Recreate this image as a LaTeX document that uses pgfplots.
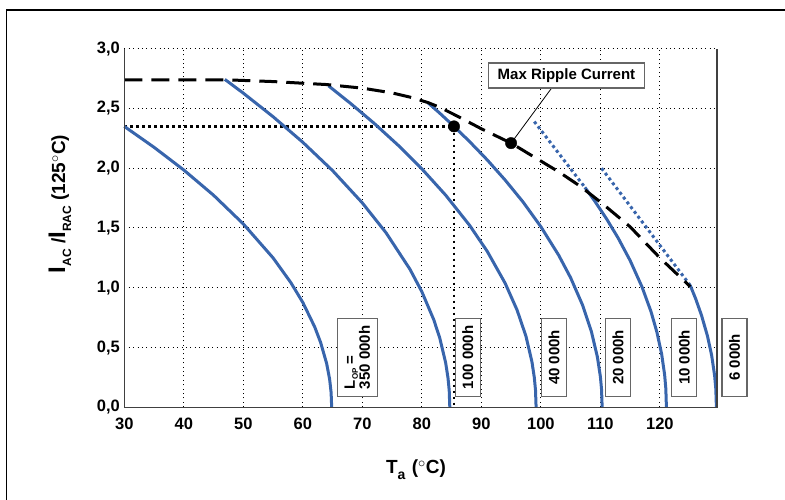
\documentclass[border=0pt]{standalone}
\usepackage{pgfplots}
\pgfplotsset{compat=1.18}
\usepackage{fontspec}
\setmainfont{Liberation Sans}
\definecolor{curveblue}{RGB}{56,101,172}
\newcommand{\sub}[2][12]{{\fontsize{#1}{#1}\selectfont\raisebox{-6pt}{#2}}}
\newcommand{\bigI}{{\fontsize{24}{24}\selectfont I}}
\begin{document}
\begin{tikzpicture}[x=1pt,y=1pt,
    box/.style={draw=black!60, line width=1.3pt, fill=white, rotate=90, inner sep=0pt,
        minimum width=78pt, minimum height=25pt, font=\fontsize{15}{15}\selectfont\bfseries}]
\useasboundingbox (0,0) rectangle (785,500);
\draw[line width=1.2pt] (6.7,-5) rectangle (790,490);
\begin{axis}[
    at={(124.3pt,92.7pt)}, anchor=south west,
    scale only axis, width=592.7pt, height=358.6pt,
    xmin=30, xmax=129.6, ymin=0, ymax=3,
    xtick={30,40,50,60,70,80,90,100,110,120},
    ytick={0,0.5,1,1.5,2,2.5,3},
    grid=major,
    major grid style={black, line width=1pt, dash pattern=on 1pt off 3.4pt},
    axis line style={draw=none},
    major tick length=0pt,
    tick label style={font=\fontsize{16.5}{19}\selectfont\bfseries},
    /pgf/number format/assume math mode=true,
    yticklabel style={/pgf/number format/.cd, fixed, fixed zerofill, precision=1, use comma},
    xticklabel shift=7pt, yticklabel shift=1pt,
    clip=false,
]
% operating point guide lines
\draw[black, line width=2.6pt, dash pattern=on 2.6pt off 3.4pt] (axis cs:30,2.35) -- (axis cs:85.4,2.35) -- (axis cs:85.4,0);

% L_op = 350 000h
\addplot[curveblue, line width=3pt, line join=round] coordinates {
    (30,2.350) (35,2.175) (40,1.985) (45,1.774) (50,1.534) (55,1.250) (58,1.042)
    (60,0.877) (62,0.672) (63,0.541) (64,0.367) (64.5,0.236) (64.75,0.126) (64.85,0)
};
% 100 000h
\addplot[curveblue, line width=3pt, line join=round] coordinates {
    (46.9,2.743) (50,2.628) (55,2.431) (60,2.217) (65,1.980) (70,1.710) (74,1.459)
    (78,1.155) (80,0.967) (82,0.733) (83,0.582) (84,0.373) (84.4,0.244) (84.6,0.141) (84.7,0)
};
% 40 000h
\addplot[curveblue, line width=3pt, line join=round] coordinates {
    (64.3,2.690) (68,2.543) (72,2.375) (76,2.193) (80,1.995) (84,1.775) (88,1.524)
    (91,1.304) (94,1.038) (96,0.814) (97.5,0.594) (98.5,0.381) (98.9,0.249) (99.1,0.144) (99.2,0)
};
% 20 000h
\addplot[curveblue, line width=3pt, line join=round] coordinates {
    (81,2.549) (83,2.461) (85.4,2.350) (88,2.224) (91,2.069) (94,1.901) (97,1.718)
    (100,1.511) (103,1.272) (105,1.084) (107,0.856) (108.5,0.632) (109.5,0.421)
    (110,0.258) (110.2,0.149) (110.3,0)
};
% 10 000h
\addplot[curveblue, line width=3pt, line join=round] coordinates {
    (107.4,1.840) (109,1.729) (111,1.580) (113,1.415) (115,1.228) (117,1.007)
    (118.5,0.802) (119.5,0.629) (120.3,0.445) (120.8,0.272) (121.0,0.157) (121.1,0)
};
\addplot[curveblue, line width=3pt, dash pattern=on 3pt off 3pt] coordinates {
    (98.9,2.39) (107.4,1.84)
};
% 6 000h
\addplot[curveblue, line width=3pt, line join=round] coordinates {
    (125.1,1.020) (126,0.910) (127,0.769) (128,0.596) (128.7,0.435) (129.2,0.266) (129.4,0.154) (129.5,0)
};
\addplot[curveblue, line width=3pt, dash pattern=on 3pt off 3pt] coordinates {
    (110.2,2.0) (125.1,1.02)
};
% max ripple current
\addplot[black, line width=3pt, dash pattern=on 18pt off 9pt] coordinates {
    (30,2.74) (47,2.74) (55,2.725) (64,2.70) (70,2.67) (75,2.63) (78,2.595) (81,2.55)
    (83,2.51) (85.8,2.44) (90,2.33) (95,2.21) (100,2.06) (103,1.97) (106.6,1.85)
    (110.2,1.71) (115,1.51) (120,1.25) (125.1,1.01)
};
\addplot[black, only marks, mark=*, mark size=5.7pt] coordinates {(85.4,2.35) (95,2.21)};

\draw[line width=0.8pt] (axis cs:101.8,2.67) -- (axis cs:95,2.21);
\node[draw=black!60, line width=1.3pt, fill=white, minimum width=156pt, minimum height=25pt,
    inner sep=0pt, font=\fontsize{15}{15}\selectfont\bfseries] at (axis cs:104.3,2.775) {Max Ripple Current};

\node[box, minimum height=40pt, align=left] at (axis cs:69.15,0.417)
    {L{\fontsize{8}{8}\selectfont\raisebox{-3pt}{OP}} =\\350 000h};
\node[box] at (axis cs:87.7,0.417) {100 000h};
\node[box] at (axis cs:102.2,0.417) {40 000h};
\node[box] at (axis cs:112.95,0.417) {20 000h};
\node[box] at (axis cs:124.1,0.417) {10 000h};
\node[box] at (axis cs:132.55,0.417) {6 000h};

\draw[black!75, line width=1.2pt] (rel axis cs:0,1) -- (rel axis cs:0,0) -- (rel axis cs:1,0) -- (rel axis cs:1,1);
\end{axis}
\node[anchor=base, font=\fontsize{19}{19}\selectfont\bfseries] at (416,26.7) {T\sub[14]{a}\,\,($^\circ$C)};
\node[rotate=90, font=\fontsize{19}{19}\selectfont\bfseries] at (60,296)
    {\bigI\sub{AC} /\bigI\sub{RAC} (125$^\circ$C)};
\end{tikzpicture}
\end{document}
